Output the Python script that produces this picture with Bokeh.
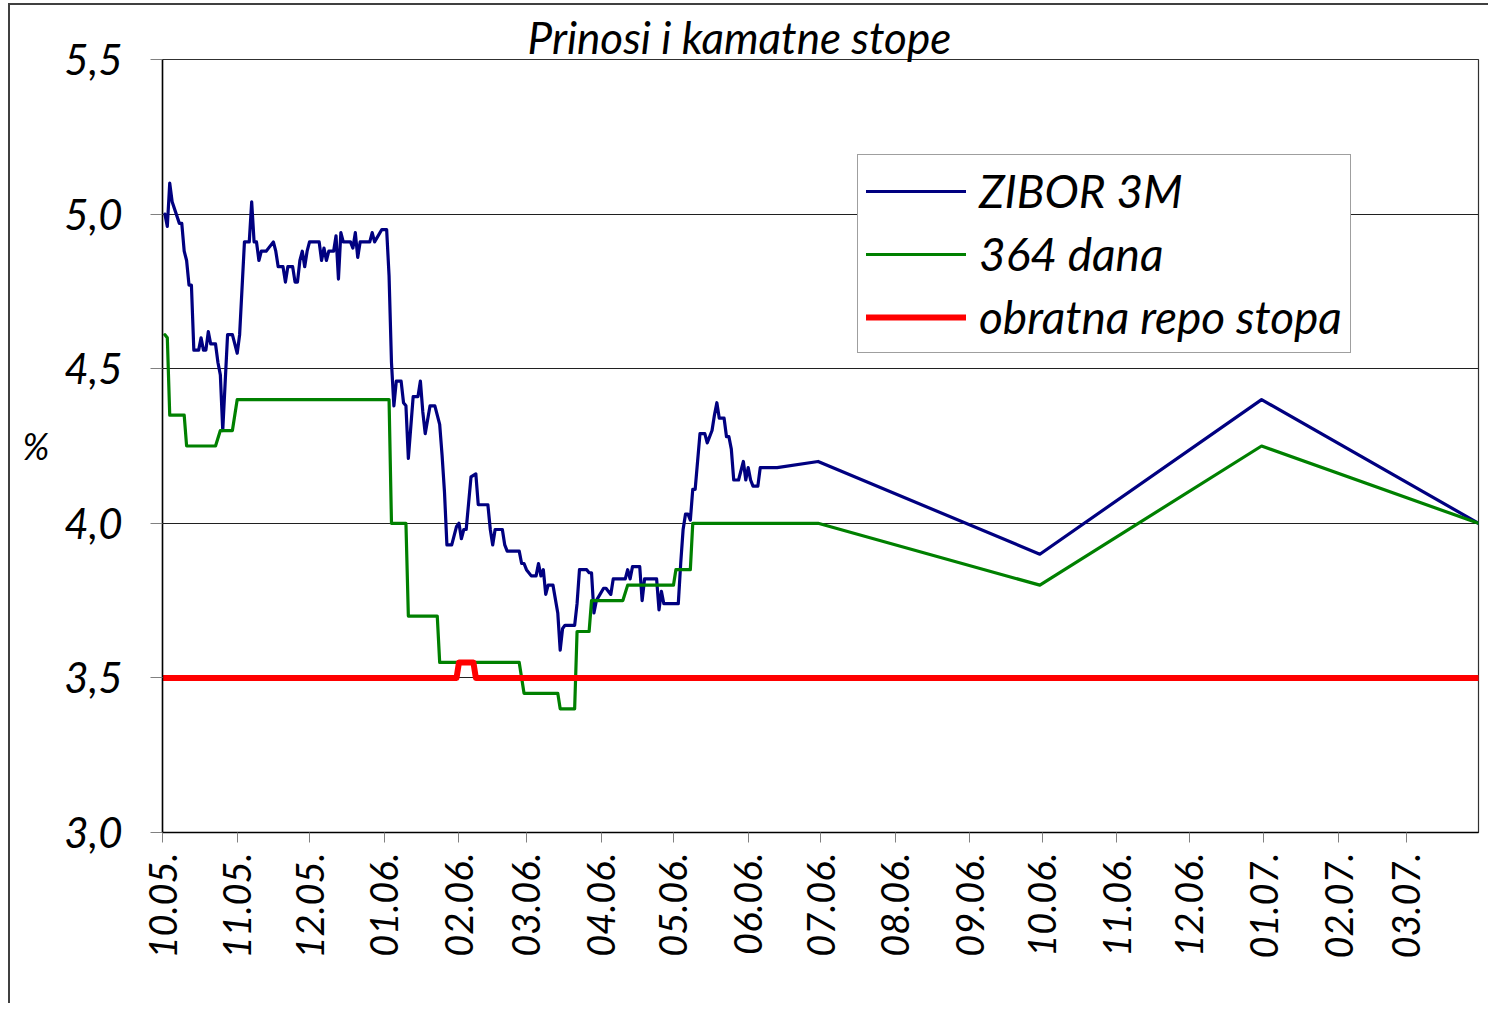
from datetime import datetime
from bokeh.plotting import figure
from bokeh.models import Range1d, FixedTicker, CustomJSTickFormatter, Legend
from bokeh.embed import file_html
from bokeh.resources import INLINE
from math import pi

zibor_dates = [
    "2005-10-02", "2005-10-03", "2005-10-04", "2005-10-05", "2005-10-08", "2005-10-09", "2005-10-10",
    "2005-10-11", "2005-10-12", "2005-10-13", "2005-10-14", "2005-10-16", "2005-10-17", "2005-10-18",
    "2005-10-19", "2005-10-20", "2005-10-21", "2005-10-23", "2005-10-24", "2005-10-25", "2005-10-26",
    "2005-10-28", "2005-10-30", "2005-11-01", "2005-11-02", "2005-11-04", "2005-11-06", "2005-11-07",
    "2005-11-08", "2005-11-09", "2005-11-10", "2005-11-11", "2005-11-13", "2005-11-14", "2005-11-16",
    "2005-11-17", "2005-11-18", "2005-11-19", "2005-11-20", "2005-11-21", "2005-11-22", "2005-11-24",
    "2005-11-25", "2005-11-26", "2005-11-27", "2005-11-28", "2005-11-29", "2005-11-30", "2005-12-01",
    "2005-12-05", "2005-12-06", "2005-12-07", "2005-12-08", "2005-12-09", "2005-12-11", "2005-12-12",
    "2005-12-13", "2005-12-14", "2005-12-15", "2005-12-18", "2005-12-19", "2005-12-20", "2005-12-21",
    "2005-12-22", "2005-12-26", "2005-12-27", "2005-12-28", "2005-12-31", "2006-01-02", "2006-01-03",
    "2006-01-04", "2006-01-05", "2006-01-06", "2006-01-08", "2006-01-09", "2006-01-10", "2006-01-11",
    "2006-01-13", "2006-01-15", "2006-01-16", "2006-01-17", "2006-01-18", "2006-01-20", "2006-01-22",
    "2006-01-24", "2006-01-25", "2006-01-26", "2006-01-27", "2006-01-29", "2006-01-31", "2006-02-01",
    "2006-02-02", "2006-02-03", "2006-02-04", "2006-02-06", "2006-02-08", "2006-02-09", "2006-02-13",
    "2006-02-14", "2006-02-15", "2006-02-16", "2006-02-19", "2006-02-20", "2006-02-21", "2006-02-26",
    "2006-02-27", "2006-02-28", "2006-03-01", "2006-03-03", "2006-03-05", "2006-03-06", "2006-03-07",
    "2006-03-08", "2006-03-09", "2006-03-10", "2006-03-12", "2006-03-14", "2006-03-15", "2006-03-16",
    "2006-03-17", "2006-03-21", "2006-03-22", "2006-03-23", "2006-03-26", "2006-03-27", "2006-03-28",
    "2006-03-29", "2006-03-30", "2006-04-02", "2006-04-03", "2006-04-05", "2006-04-06", "2006-04-11",
    "2006-04-12", "2006-04-13", "2006-04-14", "2006-04-17", "2006-04-18", "2006-04-19", "2006-04-21",
    "2006-04-24", "2006-04-25", "2006-04-26", "2006-04-27", "2006-05-03", "2006-05-04", "2006-05-05",
    "2006-05-06", "2006-05-07", "2006-05-08", "2006-05-09", "2006-05-10", "2006-05-12", "2006-05-14",
    "2006-05-15", "2006-05-17", "2006-05-18", "2006-05-19", "2006-05-20", "2006-05-21", "2006-05-22",
    "2006-05-23", "2006-05-24", "2006-05-25", "2006-05-26", "2006-05-28", "2006-05-30", "2006-05-31",
    "2006-06-01", "2006-06-02", "2006-06-03", "2006-06-05", "2006-06-06", "2006-06-13", "2006-06-30",
    "2006-09-30", "2006-12-31", "2007-03-31",
]
zibor_values = [
    5.00, 4.96, 5.10, 5.04, 4.97, 4.97, 4.88,
    4.85, 4.77, 4.77, 4.56, 4.56, 4.60, 4.56,
    4.56, 4.62, 4.58, 4.58, 4.52, 4.48, 4.30,
    4.61, 4.61, 4.55, 4.61, 4.91, 4.91, 5.04,
    4.91, 4.91, 4.85, 4.88, 4.88, 4.89, 4.91,
    4.88, 4.83, 4.83, 4.83, 4.78, 4.83, 4.83,
    4.78, 4.78, 4.85, 4.88, 4.83, 4.88, 4.91,
    4.91, 4.85, 4.89, 4.85, 4.88, 4.88, 4.93,
    4.79, 4.94, 4.91, 4.91, 4.89, 4.94, 4.86,
    4.91, 4.91, 4.94, 4.91, 4.95, 4.95, 4.80,
    4.52, 4.38, 4.46, 4.46, 4.39, 4.38, 4.21,
    4.41, 4.41, 4.46, 4.36, 4.29, 4.38, 4.38,
    4.32, 4.22, 4.10, 3.93, 3.93, 3.99, 4.00,
    3.95, 3.98, 3.98, 4.15, 4.16, 4.06, 4.06,
    3.98, 3.93, 3.98, 3.98, 3.93, 3.91, 3.91,
    3.87, 3.87, 3.85, 3.83, 3.83, 3.87, 3.83,
    3.85, 3.77, 3.80, 3.80, 3.71, 3.59, 3.66,
    3.67, 3.67, 3.74, 3.85, 3.85, 3.84, 3.84,
    3.71, 3.75, 3.79, 3.79, 3.77, 3.82, 3.82,
    3.85, 3.82, 3.86, 3.86, 3.75, 3.82, 3.82,
    3.82, 3.72, 3.78, 3.74, 3.74, 3.87, 3.98,
    4.03, 4.03, 4.01, 4.11, 4.11, 4.29, 4.29,
    4.26, 4.30, 4.35, 4.39, 4.34, 4.34, 4.34,
    4.28, 4.28, 4.24, 4.14, 4.14, 4.20, 4.14,
    4.18, 4.14, 4.12, 4.12, 4.18, 4.18, 4.20,
    3.90, 4.40, 4.00,
]

dana364_dates = [
    "2005-10-02", "2005-10-03", "2005-10-04", "2005-10-10", "2005-10-11", "2005-10-23", "2005-10-25",
    "2005-10-30", "2005-11-01", "2006-01-03", "2006-01-04", "2006-01-10", "2006-01-11", "2006-01-23",
    "2006-01-24", "2006-02-26", "2006-02-28", "2006-03-14", "2006-03-15", "2006-03-21", "2006-03-22",
    "2006-03-27", "2006-03-28", "2006-04-10", "2006-04-12", "2006-05-01", "2006-05-02", "2006-05-08",
    "2006-05-09", "2006-06-30", "2006-09-30", "2006-12-31", "2007-03-31",
]
dana364_values = [
    4.61, 4.60, 4.35, 4.35, 4.25, 4.25, 4.30,
    4.30, 4.40, 4.40, 4.00, 4.00, 3.70, 3.70,
    3.55, 3.55, 3.45, 3.45, 3.40, 3.40, 3.65,
    3.65, 3.75, 3.75, 3.80, 3.80, 3.85, 3.85,
    4.00, 4.00, 3.80, 4.25, 4.00,
]

repo_dates = ["2005-10-01", "2006-01-31", "2006-02-01", "2006-02-07", "2006-02-08", "2007-03-31"]
repo_values = [3.50, 3.50, 3.55, 3.55, 3.50, 3.50]

x_tick_dates = [
    "2005-10-01", "2005-11-01", "2005-12-01", "2006-01-01", "2006-02-01", "2006-03-01",
    "2006-04-01", "2006-05-01", "2006-06-01", "2006-07-01", "2006-08-01", "2006-09-01",
    "2006-10-01", "2006-11-01", "2006-12-01", "2007-01-01", "2007-02-01", "2007-03-01",
]
x_tick_labels = [
    "10.05.", "11.05.", "12.05.", "01.06.", "02.06.", "03.06.",
    "04.06.", "05.06.", "06.06.", "07.06.", "08.06.", "09.06.",
    "10.06.", "11.06.", "12.06.", "01.07.", "02.07.", "03.07.",
]
y_ticks = [3.0, 3.5, 4.0, 4.5, 5.0, 5.5]

series_names = ["ZIBOR 3M", "364 dana", "obratna repo stopa"]
title_text = "Prinosi i kamatne stope"
y_unit = "%"

FONT = "Lato"


def to_dt(lst):
    return [datetime.strptime(s, "%Y-%m-%d") for s in lst]


def to_ms(s):
    return (datetime.strptime(s, "%Y-%m-%d") - datetime(1970, 1, 1)).total_seconds() * 1000.0


p = figure(
    width=1480, height=1000,
    x_axis_type="datetime",
    x_range=Range1d(to_ms("2005-10-01"), to_ms("2007-03-31")),
    y_range=Range1d(3.0, 5.5),
    output_backend="svg", toolbar_location=None,
    min_border_left=152, min_border_right=12, min_border_top=54, min_border_bottom=173,
)
p.styles = {"border-left": "2px solid #404040", "border-top": "2px solid #404040",
            "margin-left": "8px", "margin-top": "3px"}
p.background_fill_color = "white"
p.border_fill_color = "white"
p.outline_line_color = "#303030"
p.outline_line_width = 1.2

# title
p.title.text = title_text
p.title.align = "left"
p.title.offset = 365
p.title.standoff = -6
p.title.text_font = FONT
p.title.text_font_style = "italic"
p.title.text_font_size = "44px"
p.title.text_color = "black"

r1 = p.line(to_dt(zibor_dates), zibor_values, line_color="#000080", line_width=3.2,
            line_join="round", line_cap="round")
r2 = p.line(to_dt(dana364_dates), dana364_values, line_color="#008000", line_width=3.2,
            line_join="round", line_cap="round")
r3 = p.line(to_dt(repo_dates), repo_values, line_color="#ff0000", line_width=6,
            line_join="round", line_cap="round")

# axes
tick_ms = [to_ms(d) for d in x_tick_dates]
p.xaxis.ticker = FixedTicker(ticks=tick_ms)
p.xaxis.formatter = CustomJSTickFormatter(args=dict(tpos=tick_ms, tlab=x_tick_labels), code="""
let best = 0, bd = Infinity;
for (let i = 0; i < tpos.length; i++) {
  const d = Math.abs(tpos[i] - tick);
  if (d < bd) { bd = d; best = i; }
}
return tlab[best];
""")
p.xaxis.major_label_orientation = pi / 2
p.xaxis.major_label_text_font = FONT
p.xaxis.major_label_text_font_style = "italic"
p.xaxis.major_label_text_font_size = "38px"
p.xaxis.major_label_text_color = "black"
p.xaxis.major_label_standoff = 10
p.xaxis.major_tick_out = 10
p.xaxis.major_tick_in = 0
p.xaxis.minor_tick_out = 0
p.xaxis.minor_tick_in = 0
p.xaxis.major_tick_line_color = "#808080"
p.xaxis.axis_line_color = "black"
p.xaxis.axis_line_width = 1.5

p.yaxis.ticker = FixedTicker(ticks=y_ticks)
p.yaxis.formatter = CustomJSTickFormatter(code="return tick.toFixed(1).replace('.', ',');")
p.yaxis.major_label_text_font = FONT
p.yaxis.major_label_text_font_style = "italic"
p.yaxis.major_label_text_font_size = "42px"
p.yaxis.major_label_text_color = "black"
p.yaxis.major_label_standoff = 28
p.yaxis.major_tick_out = 12
p.yaxis.major_tick_in = 0
p.yaxis.minor_tick_out = 0
p.yaxis.minor_tick_in = 0
p.yaxis.major_tick_line_color = "#808080"
p.yaxis.axis_line_color = "black"
p.yaxis.axis_line_width = 1.5
p.yaxis.axis_label = y_unit
p.yaxis.axis_label_text_font = FONT
p.yaxis.axis_label_text_font_style = "italic"
p.yaxis.axis_label_text_font_size = "36px"
p.yaxis.axis_label_text_color = "black"
p.yaxis.axis_label_standoff = 12
try:
    p.yaxis[0].axis_label_orientation = "horizontal"
except Exception:
    pass

p.xgrid.visible = False
p.ygrid.grid_line_color = "#202020"
p.ygrid.grid_line_width = 1

legend = Legend(
    items=[(series_names[0], [r1]), (series_names[1], [r2]), (series_names[2], [r3])],
    location=(695, 479),
    label_text_font=FONT, label_text_font_style="italic", label_text_font_size="46px",
    label_text_color="black",
    glyph_width=100, glyph_height=46, label_height=46, spacing=8, padding=8,
    label_standoff=13, margin=0,
    border_line_color="#404040", border_line_width=1.2,
    background_fill_color="white", background_fill_alpha=1.0,
)
p.add_layout(legend)

open("out.html", "w").write(file_html(p, INLINE))
